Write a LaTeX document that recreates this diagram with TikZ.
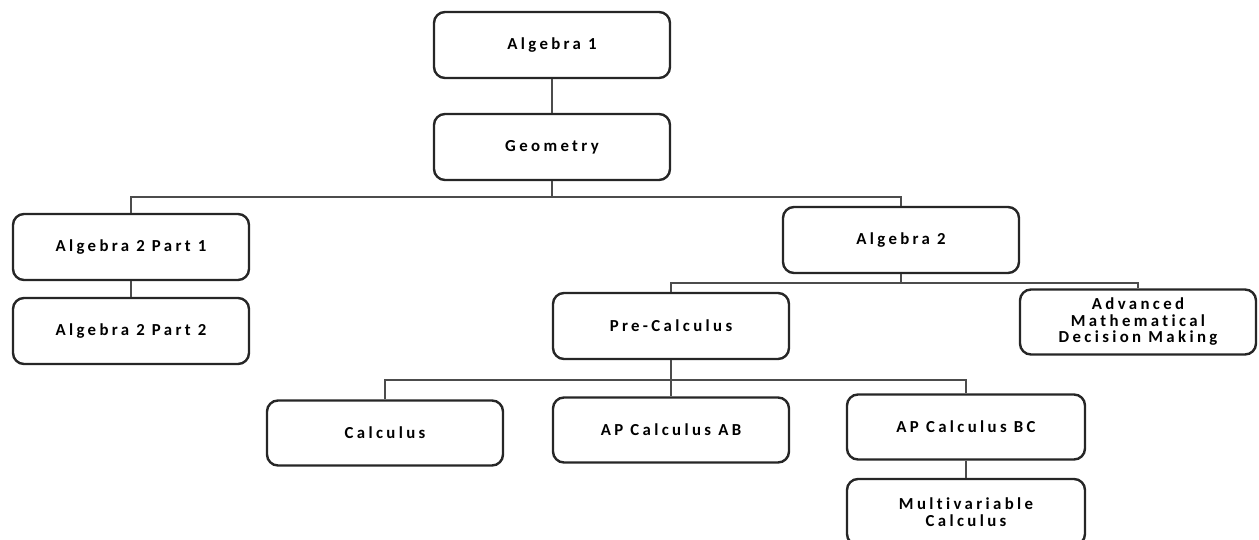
\documentclass[tikz,border=0pt]{standalone}
\usepackage{fontspec}
\setmainfont{Carlito}[LetterSpace=20, Ligatures={NoCommon}]
\begin{document}
\begin{tikzpicture}[x=1pt,y=-1pt,
  box/.style={draw=black!85, line width=2.4pt, rounded corners=11pt, fill=white,
    minimum width=236pt, minimum height=66pt, inner sep=2pt, align=center,
    font=\fontsize{16.8}{16.5}\selectfont\bfseries, text=black},
  link/.style={draw=black!70, line width=1.5pt}]
\useasboundingbox (0,0) rectangle (1259,540);
\node[box] (a1) at (552,45) {Algebra 1};
\node[box] (geo) at (552,147) {Geometry};
\node[box] (a2p1) at (131,247) {Algebra 2 Part 1};
\node[box] (a2p2) at (131,331) {Algebra 2 Part 2};
\node[box] (a2) at (901,240) {Algebra 2};
\node[box] (pc) at (671,326) {Pre-Calculus};
\node[box, minimum height=65pt] (amdm) at (1138,322) {Advanced\\Mathematical\\Decision Making};
\node[box, minimum height=65pt] (calc) at (385,433) {Calculus};
\node[box, minimum height=65pt] (ab) at (671,430) {AP Calculus AB};
\node[box, minimum width=238pt, minimum height=65pt] (bc) at (966,427) {AP Calculus BC};
\node[box, minimum width=238pt, minimum height=66pt] (mv) at (966,512) {Multivariable\\Calculus};
\draw[link] (a1) -- (geo);
\draw[link] (a2p1) -- (a2p2);
\draw[link] (bc) -- (mv);
\coordinate (j1) at (552,197);
\coordinate (j2) at (901,283);
\coordinate (j3) at (671,380);
\draw[link] (geo.south) -- (j1);
\draw[link] (a2p1.north) |- (j1) -| (a2.north);
\draw[link] (a2.south) -- (j2);
\draw[link] (pc.north) |- (j2) -| (amdm.north);
\draw[link] (pc.south) -- (j3);
\draw[link] (calc.north) |- (j3) -| (bc.north);
\draw[link] (j3) -- (ab.north);
\end{tikzpicture}
\end{document}
